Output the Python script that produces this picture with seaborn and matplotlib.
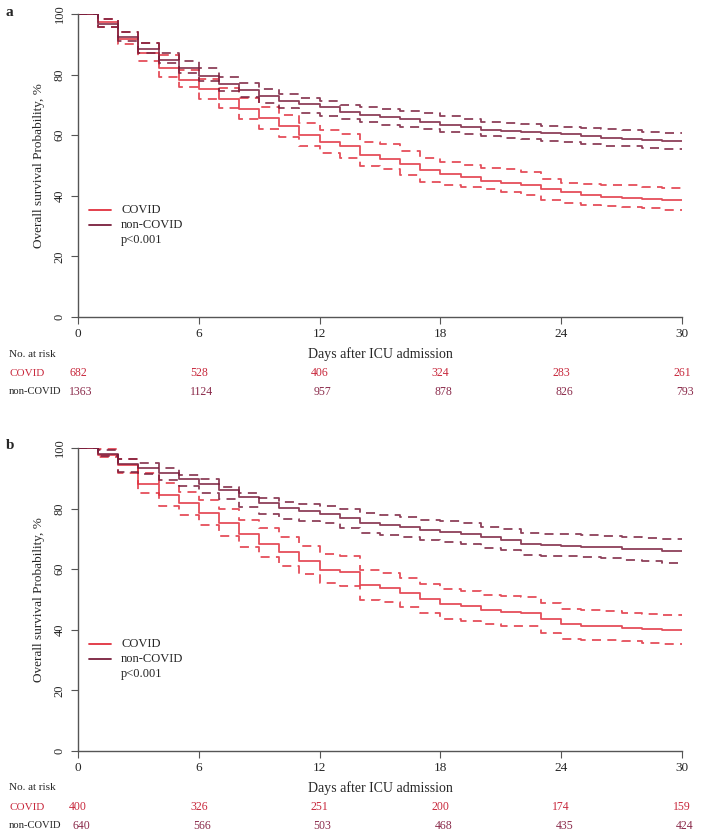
import numpy as np
import pandas as pd
import seaborn as sns
from matplotlib import pyplot as plt

# days 0..29, value of each step (survival %)
days = list(range(31))

a_covid = [100, 97.5, 91.6, 87.0, 82.1, 78.1, 75.1, 72.1, 68.5, 65.6, 63.0, 60.2, 57.9, 56.5,
           53.5, 52.0, 50.5, 48.4, 47.3, 46.1, 44.9, 44.3, 43.5, 42.1, 41.1, 40.1, 39.7, 39.4, 39.0, 38.6]
a_covid_hi = [100, 98.5, 94.2, 90.3, 86.5, 81.5, 78.4, 75.5, 72.2, 69.4, 66.7, 64.1, 61.7, 60.4,
              57.6, 57.1, 54.9, 52.5, 51.1, 50.3, 49.3, 48.7, 47.9, 45.6, 44.3, 43.9, 43.7, 43.4, 42.9, 42.5]
a_covid_lo = [100, 95.6, 90.1, 84.6, 79.2, 75.8, 71.9, 68.9, 65.3, 62.0, 59.3, 56.5, 54.1, 52.6,
              49.9, 48.7, 46.9, 44.7, 43.5, 43.0, 42.1, 41.3, 40.4, 38.5, 37.5, 36.8, 36.5, 36.2, 35.9, 35.4]
a_non = [100, 96.8, 92.5, 88.5, 84.8, 82.3, 79.5, 76.8, 74.9, 72.9, 71.4, 70.2, 69.4, 67.5,
         66.7, 65.9, 65.2, 64.5, 63.4, 62.7, 61.8, 61.4, 60.9, 60.6, 60.3, 59.8, 59.2, 58.7, 58.3, 58.0]
a_non_hi = [100, 98.2, 94.2, 90.3, 87.2, 84.5, 82.1, 79.3, 77.3, 75.4, 73.6, 72.4, 71.3, 70.0,
            69.4, 68.6, 68.0, 67.2, 66.4, 65.5, 64.5, 63.9, 63.6, 63.2, 62.8, 62.5, 62.0, 61.6, 61.1, 60.8]
a_non_lo = [100, 95.8, 91.2, 87.0, 83.7, 80.4, 77.9, 74.7, 72.5, 70.5, 68.9, 67.4, 66.3, 65.2,
            64.4, 63.4, 62.6, 62.0, 61.0, 60.3, 59.6, 59.1, 58.6, 58.0, 57.6, 57.0, 56.6, 56.3, 55.8, 55.3]

b_covid = [100, 97.8, 94.4, 88.0, 84.5, 81.7, 78.7, 75.2, 71.6, 68.3, 65.6, 62.6, 59.9, 59.1,
           54.9, 53.8, 52.1, 50.2, 48.6, 47.7, 46.4, 45.9, 45.6, 43.6, 42.0, 41.4, 41.1, 40.7, 40.4, 39.8]
b_covid_hi = [100, 99.6, 96.3, 91.9, 88.3, 85.6, 82.8, 79.8, 76.4, 73.6, 70.5, 67.8, 65.0, 64.3,
              59.8, 58.7, 57.1, 55.2, 53.5, 52.7, 51.6, 51.3, 50.8, 48.8, 46.9, 46.4, 46.1, 45.6, 45.3, 44.8]
b_covid_lo = [100, 97.0, 91.9, 85.0, 80.9, 77.9, 74.7, 71.1, 67.2, 64.1, 61.2, 58.4, 55.4, 54.6,
              50.0, 49.1, 47.5, 45.5, 43.6, 42.9, 41.8, 41.4, 41.1, 39.0, 37.1, 36.7, 36.5, 36.2, 35.6, 35.2]
b_non = [100, 98.1, 94.6, 93.3, 91.6, 89.7, 88.0, 86.1, 83.9, 81.8, 80.2, 79.1, 78.2, 76.9,
         75.4, 74.6, 73.8, 73.0, 72.3, 71.6, 70.5, 69.8, 68.3, 67.9, 67.8, 67.4, 67.2, 66.8, 66.6, 66.1]
b_non_hi = [100, 99.2, 96.3, 95.2, 93.3, 91.1, 89.7, 87.0, 85.0, 83.4, 82.3, 81.5, 80.9, 79.8,
            78.7, 77.9, 77.1, 76.3, 75.8, 75.1, 74.0, 73.2, 71.8, 71.6, 71.5, 71.2, 70.8, 70.5, 70.3, 70.0]
b_non_lo = [100, 97.4, 92.2, 91.3, 89.4, 87.5, 85.0, 83.1, 80.4, 78.2, 76.5, 76.0, 75.1, 73.6,
            72.1, 71.3, 70.5, 69.7, 68.9, 68.3, 67.0, 66.3, 64.7, 64.5, 64.3, 63.9, 63.6, 63.0, 62.6, 62.2]

risk_days = [0, 6, 12, 18, 24, 30]
a_risk_covid = [682, 528, 406, 324, 283, 261]
a_risk_non = [1363, 1124, 957, 878, 826, 793]
b_risk_covid = [400, 326, 251, 200, 174, 159]
b_risk_non = [640, 566, 503, 468, 435, 424]

groups = ["COVID", "non-COVID"]
colors = {"COVID": "#e0303e", "non-COVID": "#7a1f3d"}

sns.set_style("ticks")
plt.rcParams['font.family'] = ['Liberation Serif', 'DejaVu Serif']
plt.rcParams['font.size'] = 9

W, H = 708, 836
fig = plt.figure(figsize=(W / 100, H / 100), dpi=100)


def to_long(series):
    rows = []
    for (grp, kind), vals in series.items():
        vals = list(vals) + [vals[-1]]
        for d, v in zip(days, vals):
            rows.append({"day": d, "surv": v, "group": grp, "kind": kind})
    return pd.DataFrame(rows)


def panel(top_px, label, est, hi, lo, risk_c, risk_n):
    bottom_px = top_px + 303
    ax = fig.add_axes([78 / W, 1 - bottom_px / H, 604 / W, 303 / H])
    df = to_long({
        ("COVID", "est"): est[0], ("COVID", "hi"): hi[0], ("COVID", "lo"): lo[0],
        ("non-COVID", "est"): est[1], ("non-COVID", "hi"): hi[1], ("non-COVID", "lo"): lo[1],
    })
    df["line"] = df["group"] + "_" + df["kind"]
    sns.lineplot(data=df, x="day", y="surv", hue="group", style="kind",
                 units="line", estimator=None, palette=colors,
                 dashes={"est": "", "hi": (5, 3.5), "lo": (5, 3.5)},
                 drawstyle="steps-post", lw=1.3, alpha=0.85, legend=False, ax=ax)
    ax.set_xlim(0, 30)
    ax.set_ylim(0, 100)
    ax.set_xticks(risk_days)
    ax.set_yticks([0, 20, 40, 60, 80, 100])
    ax.tick_params(axis="y", labelrotation=90, length=5, pad=4, color="#555555", labelsize=9)
    ax.tick_params(axis="x", length=5, pad=3, color="#555555", labelsize=9.5)
    for t in ax.get_yticklabels():
        t.set_va("center")
    ax.set_xlabel("")
    ax.set_ylabel("Overall survival Probability, %", fontsize=9.5, labelpad=6)
    sns.despine(ax=ax)
    for s in ["left", "bottom"]:
        ax.spines[s].set_color("#555555")
        ax.spines[s].set_linewidth(1.0)

    # legend inside the panel
    tr = ax.transAxes
    ly = [(bottom_px - (top_px + 196)) / 303, (bottom_px - (top_px + 211)) / 303,
          (bottom_px - (top_px + 226)) / 303]
    for g, yy in zip(groups, ly[:2]):
        ax.plot([11 / 604, 33 / 604], [yy, yy], transform=tr, color=colors[g], lw=1.3)
        ax.text(43 / 604, yy, g, transform=tr, va="center", ha="left", fontsize=9)
    ax.text(43 / 604, ly[2], "p<0.001", transform=tr, va="center", ha="left", fontsize=9)

    # panel label
    fig.text(6 / W, 1 - (top_px - 2) / H, label, fontweight="bold", fontsize=11,
             ha="left", va="center")

    # number at risk table
    xt = ax.get_xaxis_transform()
    ax.text(15, -37 / 303, "Days after ICU admission", transform=xt,
            ha="center", va="center", fontsize=10)
    fig.text(9 / W, 1 - (bottom_px + 37) / H, "No. at risk", ha="left", va="center", fontsize=8)
    fig.text(9 / W, 1 - (bottom_px + 56) / H, "COVID", ha="left", va="center",
             fontsize=8, color="#c8283c")
    fig.text(9 / W, 1 - (bottom_px + 75) / H, "non-COVID", ha="left", va="center", fontsize=7.6)
    for d, c, n in zip(risk_days, risk_c, risk_n):
        ax.text(d, -56 / 303, str(c), transform=xt, ha="center", va="center",
                fontsize=8.5, color="#c8283c", clip_on=False)
        ax.text(d + 0.15, -75 / 303, str(n), transform=xt, ha="center", va="center",
                fontsize=8.5, color="#8a2a4a", clip_on=False)
    return ax


panel(14, "a", (a_covid, a_non), (a_covid_hi, a_non_hi), (a_covid_lo, a_non_lo),
      a_risk_covid, a_risk_non)
panel(448, "b", (b_covid, b_non), (b_covid_hi, b_non_hi), (b_covid_lo, b_non_lo),
      b_risk_covid, b_risk_non)

fig.savefig("out.png", dpi=100, facecolor="white")
